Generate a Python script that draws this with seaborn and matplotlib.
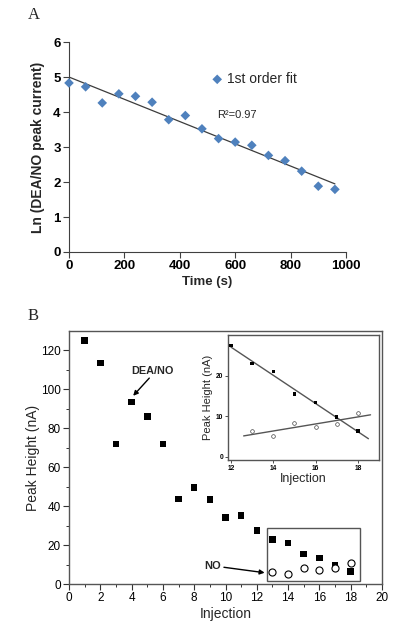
import numpy as np
import pandas as pd
import matplotlib
matplotlib.use("Agg")
import matplotlib.pyplot as plt
import seaborn as sns
from matplotlib.patches import Rectangle

# ---------------- data ----------------
time_s = [0, 60, 120, 180, 240, 300, 360, 420, 480, 540, 600, 660, 720, 780, 840, 900, 960]
ln_current = [4.83, 4.72, 4.26, 4.52, 4.45, 4.28, 3.78, 3.90, 3.52, 3.24, 3.14, 3.05, 2.76,
              2.61, 2.31, 1.88, 1.79]

injection = list(range(1, 19))
dea_no_peak = [125.0, 113.5, 72.0, 93.4, 86.1, 72.0, 43.7, 49.5, 43.5, 34.1, 35.1, 27.4,
               22.9, 21.0, 15.5, 13.3, 9.8, 6.3]
no_injection = [13, 14, 15, 16, 17, 18]
no_peak = [6.3, 5.1, 8.3, 7.4, 8.0, 10.8]

a_xticks = [0, 200, 400, 600, 800, 1000]
a_yticks = [0, 1, 2, 3, 4, 5, 6]
b_xticks = list(range(0, 21, 2))
b_yticks = list(range(0, 121, 20))
inset_xticks = [12, 14, 16, 18]
inset_yticks = [0, 10, 20]

dfA = pd.DataFrame({"time": time_s, "ln": ln_current})
dfB = pd.DataFrame({"inj": injection, "peak": dea_no_peak})
dfNO = pd.DataFrame({"inj": no_injection, "peak": no_peak})
dfInset = dfB[dfB["inj"] >= 12]

# ---------------- style ----------------
sns.set_style("ticks")
plt.rcParams["font.family"] = ["Liberation Sans", "DejaVu Sans"]

fig = plt.figure(figsize=(4.0, 6.3), dpi=100)
fig.patch.set_facecolor("white")

# ---------------- panel A ----------------
axA = fig.add_axes([0.1725, 0.600, 0.6925, 0.3333])
sns.regplot(data=dfA, x="time", y="ln", scatter=False, ci=None, ax=axA,
            color="#3c3c3c", line_kws=dict(lw=0.9))
sns.scatterplot(data=dfA, x="time", y="ln", marker="D", s=24, color="#4F81BD",
                edgecolor="none", ax=axA, label="1st order fit", zorder=3, clip_on=False)
axA.set_xlim(0, 1000)
axA.set_ylim(0, 6)
axA.set_xticks(a_xticks)
axA.set_yticks(a_yticks)
for lab in axA.get_xticklabels() + axA.get_yticklabels():
    lab.set_fontweight("bold")
    lab.set_fontsize(9.5)
axA.tick_params(direction="out", length=4, width=0.8, colors="#404040", labelcolor="black", pad=2)
sns.despine(ax=axA)
for sp in ["left", "bottom"]:
    axA.spines[sp].set_color("#404040")
    axA.spines[sp].set_linewidth(0.8)
axA.set_xlabel("Time (s)", fontsize=9.5, fontweight="bold", labelpad=3)
axA.set_ylabel("Ln (DEA/NO peak current)", fontsize=10, fontweight="bold", labelpad=6)
leg = axA.legend(loc="center left", bbox_to_anchor=(0.515, 0.824), frameon=False,
                 fontsize=10, handlelength=0.8, handletextpad=0.3, borderpad=0,
                 borderaxespad=0, markerscale=1.0)
axA.text(0.534, 0.652, "R²=0.97", transform=axA.transAxes, fontsize=8,
         ha="left", va="center")
fig.text(0.07, 0.976, "A", fontsize=12, family="Liberation Serif", ha="left", va="center")

# ---------------- panel B ----------------
axB = fig.add_axes([0.1725, 0.0730, 0.7825, 0.4016])
sns.scatterplot(data=dfB, x="inj", y="peak", marker="s", s=22, color="black",
                edgecolor="none", ax=axB, zorder=3)
sns.scatterplot(data=dfNO, x="inj", y="peak", marker="o", s=26, facecolor="white",
                edgecolor="black", linewidth=0.8, ax=axB, zorder=3)
axB.set_xlim(0, 20)
axB.set_ylim(0, 130)
axB.set_xticks(b_xticks)
axB.set_yticks(b_yticks)
axB.set_xticks(range(1, 20, 2), minor=True)
axB.set_yticks(range(10, 130, 20), minor=True)
axB.tick_params(which="major", direction="out", length=4, width=0.8, labelsize=8.5, pad=2,
                colors="#333333", labelcolor="black")
axB.tick_params(which="minor", direction="out", length=2.5, width=0.7, colors="#333333")
for sp in axB.spines.values():
    sp.set_color("#555555")
    sp.set_linewidth(1.0)
axB.set_xlabel("Injection", fontsize=10, labelpad=2)
axB.set_ylabel("Peak Height (nA)", fontsize=10, labelpad=0.5)

axB.add_patch(Rectangle((12.67, 1.5), 5.92, 27.1, fill=False, edgecolor="#555555",
                        lw=1.0, zorder=2))
axB.text(5.3, 109.4, "DEA/NO", fontsize=7.8, fontweight="bold", ha="center", va="center")
axB.annotate("", xy=(4.1, 96.7), xytext=(5.13, 105.8),
             arrowprops=dict(arrowstyle="-|>", color="black", lw=1.0,
                             mutation_scale=7, shrinkA=0, shrinkB=0))
axB.text(9.2, 9.25, "NO", fontsize=8, fontweight="bold", ha="center", va="center")
axB.annotate("", xy=(12.5, 5.8), xytext=(9.9, 8.6),
             arrowprops=dict(arrowstyle="-|>", color="black", lw=1.0,
                             mutation_scale=7, shrinkA=0, shrinkB=0))
fig.text(0.07, 0.498, "B", fontsize=12, family="Liberation Serif", ha="left", va="center")

# ---------------- inset ----------------
axI = fig.add_axes([0.570, 0.2698, 0.3775, 0.1985])
sns.scatterplot(data=dfInset, x="inj", y="peak", marker="s", s=6, color="black",
                edgecolor="none", ax=axI, zorder=3)
sns.scatterplot(data=dfNO, x="inj", y="peak", marker="o", s=7, facecolor="white",
                edgecolor="#444444", linewidth=0.5, ax=axI, zorder=3)
k1, b1 = np.polyfit(dfInset["inj"], dfInset["peak"], 1)
k2, b2 = np.polyfit(dfNO["inj"], dfNO["peak"], 1)
xx1 = np.array([12.0, 18.5])
xx2 = np.array([12.6, 18.6])
axI.plot(xx1, k1 * xx1 + b1, color="#555555", lw=1.0, zorder=2)
axI.plot(xx2, k2 * xx2 + b2, color="#555555", lw=1.0, zorder=2)
axI.set_xlim(11.86, 19.0)
axI.set_ylim(-0.8, 30)
axI.set_xticks(inset_xticks)
axI.set_yticks(inset_yticks)
axI.tick_params(direction="out", length=2, width=0.6, labelsize=4.8, pad=1.5,
                colors="#333333", labelcolor="black")
for lab in axI.get_xticklabels() + axI.get_yticklabels():
    lab.set_fontweight("bold")
for sp in axI.spines.values():
    sp.set_color("#555555")
    sp.set_linewidth(1.0)
axI.set_xlabel("Injection", fontsize=9, labelpad=1)
axI.set_ylabel("Peak Height (nA)", fontsize=8, labelpad=2)

fig.savefig("out.png", dpi=100, facecolor="white")
